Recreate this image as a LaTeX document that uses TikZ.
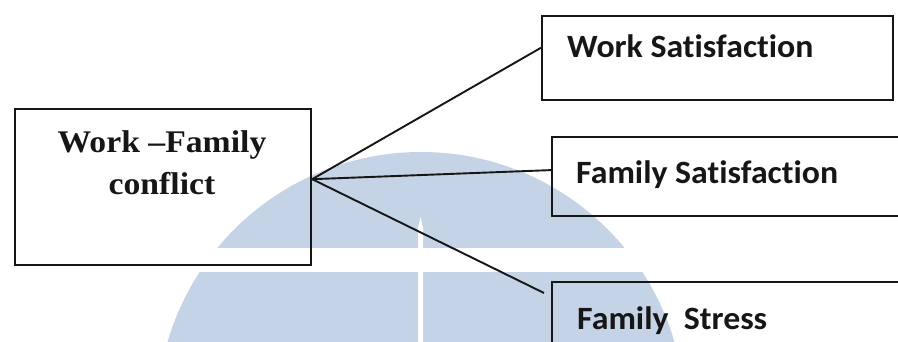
\documentclass[tikz,border=0pt]{standalone}
\usepackage{fontspec}
\newfontfamily\boxsans[Ligatures=NoCommon]{Carlito}
\newfontfamily\boxserif{Liberation Serif}
\usetikzlibrary{calc}
\definecolor{logoblue}{RGB}{197,211,230}
\definecolor{ink}{RGB}{22,22,22}
% labels are set a little wider than the font's natural width
\newcommand\widetext[2][1.04]{\scalebox{#1}[1]{#2}}

\begin{document}
\begin{tikzpicture}[x=1pt,y=-1pt,
  box/.style={draw=ink, line width=2.2pt, rectangle, inner sep=0pt, anchor=north west},
  link/.style={draw=ink, line width=1.9pt},
  sanslabel/.style={anchor=base west, inner sep=0pt, text=ink,
    font=\boxsans\bfseries\fontsize{32.5}{36}\selectfont},
  seriflabel/.style={anchor=base, inner sep=0pt, text=ink,
    font=\boxserif\bfseries\fontsize{31.5}{36}\selectfont}]
\useasboundingbox (0,0) rectangle (898,342);

% pale logo in the background
\begin{scope}
  \clip (0,0) rectangle (898,342);
  \fill[logoblue] (421,416) circle (264);
  \fill[white] (0,248) rectangle (898,272);
  \fill[white] (418,342) -- (418,228) -- (420.5,217) -- (423,228) -- (423,342) -- cycle;
\end{scope}

% boxes
\node[box, minimum width=296, minimum height=156] (wfc) at (14,108) {};
\node[box, minimum width=351, minimum height=84]  (ws)  at (541,15) {};
\node[box, minimum width=360, minimum height=79]  (fs)  at (551,136) {};
\node[box, minimum width=360, minimum height=100] (fst) at (551,281) {};

% texts
\node[seriflabel] (wfcline1) at (162,153) {\widetext[1.07]{Work –Family}};
\node[seriflabel] (wfcline2) at (162,195) {\widetext[1.07]{conflict}};
\node[sanslabel] (wstext)  at (567,58)  {\widetext{Work Satisfaction}};
\node[sanslabel] (fstext)  at (576,184) {\widetext{Family Satisfaction}};
\node[sanslabel] (fsttext) at (577,329) {\widetext{Family\ \ Stress}};

% connectors
\coordinate (hub) at ($(wfc.north east)!0.45!(wfc.south east)$);
\coordinate (stressend) at ($(fst.north west)+(-7,12)$);
\draw[link] (hub) -- ($(ws.north west)!0.38!(ws.south west)$);
\draw[link] (hub) -- ($(fs.north west)!0.42!(fs.south west)$);
\draw[link] (hub) -- (stressend);
\end{tikzpicture}
\end{document}
